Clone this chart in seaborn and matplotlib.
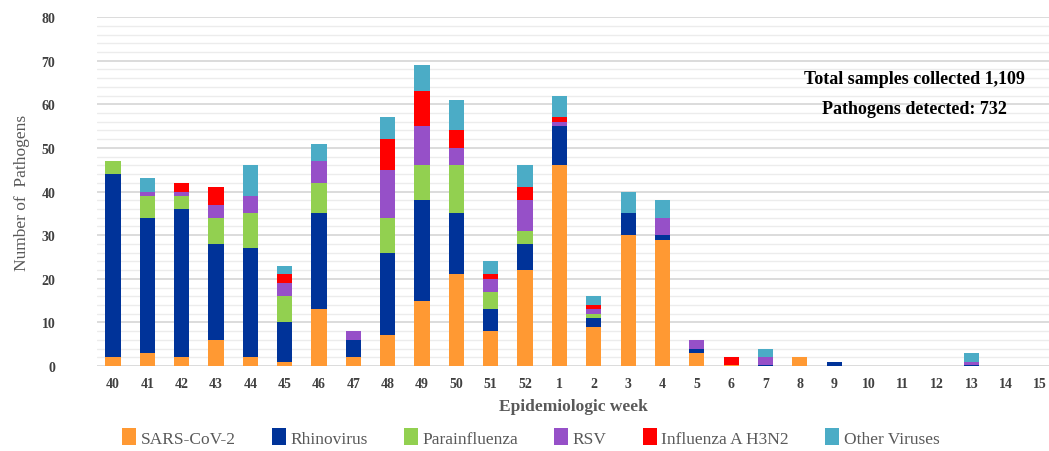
import pandas as pd
import seaborn as sns
import matplotlib.pyplot as plt
from matplotlib.patches import Patch
from matplotlib.ticker import MultipleLocator

weeks = ["40", "41", "42", "43", "44", "45", "46", "47", "48", "49", "50", "51", "52",
         "1", "2", "3", "4", "5", "6", "7", "8", "9", "10", "11", "12", "13", "14", "15"]

sars = [2, 3, 2, 6, 2, 1, 13, 2, 7, 15, 21, 8, 22, 46, 9, 30, 29, 3, 0.3, 0, 2, 0, 0, 0, 0, 0, 0, 0]
rhino = [42, 31, 34, 22, 25, 9, 22, 4, 19, 23, 14, 5, 6, 9, 2, 5, 1, 1, 0, 0.3, 0, 1, 0, 0, 0, 0.3, 0, 0]
parainfluenza = [3, 5, 3, 6, 8, 6, 7, 0, 8, 8, 11, 4, 3, 0, 1, 0, 0, 0, 0, 0, 0, 0, 0, 0, 0, 0, 0, 0]
rsv = [0, 1, 1, 3, 4, 3, 5, 2, 11, 9, 4, 3, 7, 1, 1, 0, 4, 2, 0, 1.7, 0, 0, 0, 0, 0, 0.7, 0, 0]
flu_h3n2 = [0, 0, 2, 4, 0, 2, 0, 0, 7, 8, 4, 1, 3, 1, 1, 0, 0, 0, 1.7, 0, 0, 0, 0, 0, 0, 0, 0, 0]
other = [0, 3, 0, 0, 7, 2, 4, 0, 5, 6, 7, 3, 5, 5, 2, 5, 4, 0, 0, 2, 0, 0, 0, 0, 0, 2, 0, 0]

series = ["SARS-CoV-2", "Rhinovirus", "Parainfluenza", "RSV", "Influenza A H3N2", "Other Viruses"]
colors = ["#FF9933", "#003399", "#92D050", "#9650C8", "#FF0000", "#4BACC6"]

TEXT = "#404040"
SERIF = ["Liberation Serif", "DejaVu Serif"]


def main():
    df = pd.DataFrame({"week": weeks, "SARS-CoV-2": sars, "Rhinovirus": rhino,
                       "Parainfluenza": parainfluenza, "RSV": rsv,
                       "Influenza A H3N2": flu_h3n2, "Other Viruses": other})
    # cumulative heights, drawn from the top layer down so each one covers the next
    cum = df[series].cumsum(axis=1)

    sns.set_style("white")
    fig = plt.figure(figsize=(10.49, 4.52), dpi=100)
    ax = fig.add_axes([0.0925, 0.188, 0.9075, 0.772])

    for name, col in reversed(list(zip(series, colors))):
        sns.barplot(x=df["week"], y=cum[name], order=weeks, color=col, saturation=1,
                    width=0.44, linewidth=0, ax=ax, zorder=3)

    ax.set_xlim(-0.466, 27.26)
    ax.set_ylim(0, 80)
    ax.yaxis.set_major_locator(MultipleLocator(10))
    ax.yaxis.set_minor_locator(MultipleLocator(2))
    ax.grid(True, which="major", axis="y", color="#d9d9d9", linewidth=1.3, zorder=0)
    ax.grid(True, which="minor", axis="y", color="#ececec", linewidth=1.0, zorder=0)
    ax.set_axisbelow(True)
    sns.despine(ax=ax, left=True, bottom=True)
    ax.tick_params(axis="both", which="both", length=0)
    ax.tick_params(axis="x", pad=8)
    ax.tick_params(axis="y", pad=30)

    for lab in ax.get_xticklabels() + ax.get_yticklabels():
        lab.set_fontfamily(SERIF)
        lab.set_fontweight("bold")
        lab.set_fontsize(10)
        lab.set_color(TEXT)

    ax.set_xlabel("Epidemiologic week", fontfamily=SERIF, fontweight="bold",
                  fontsize=12.5, color="#595959", labelpad=6)
    ax.set_ylabel("Number of  Pathogens", fontfamily=SERIF, fontsize=12.5,
                  color="#595959", labelpad=8)

    ax.text(23.35, 62.5, "Total samples collected 1,109\nPathogens detected: 732",
            ha="center", va="center", fontsize=13, fontweight="bold",
            fontfamily=SERIF, color="black", linespacing=1.95)

    handles = [Patch(facecolor=c, edgecolor="none") for c in colors]
    fig.legend(handles, series, loc="center", bbox_to_anchor=(0.506, 0.03),
               ncol=6, frameon=False, handlelength=0.8, handleheight=1.1,
               handletextpad=0.25, columnspacing=2.1,
               prop={"family": SERIF, "size": 12.5}, labelcolor="#595959")

    fig.savefig("out.png", dpi=100)
    plt.close()


if __name__ == "__main__":
    main()
